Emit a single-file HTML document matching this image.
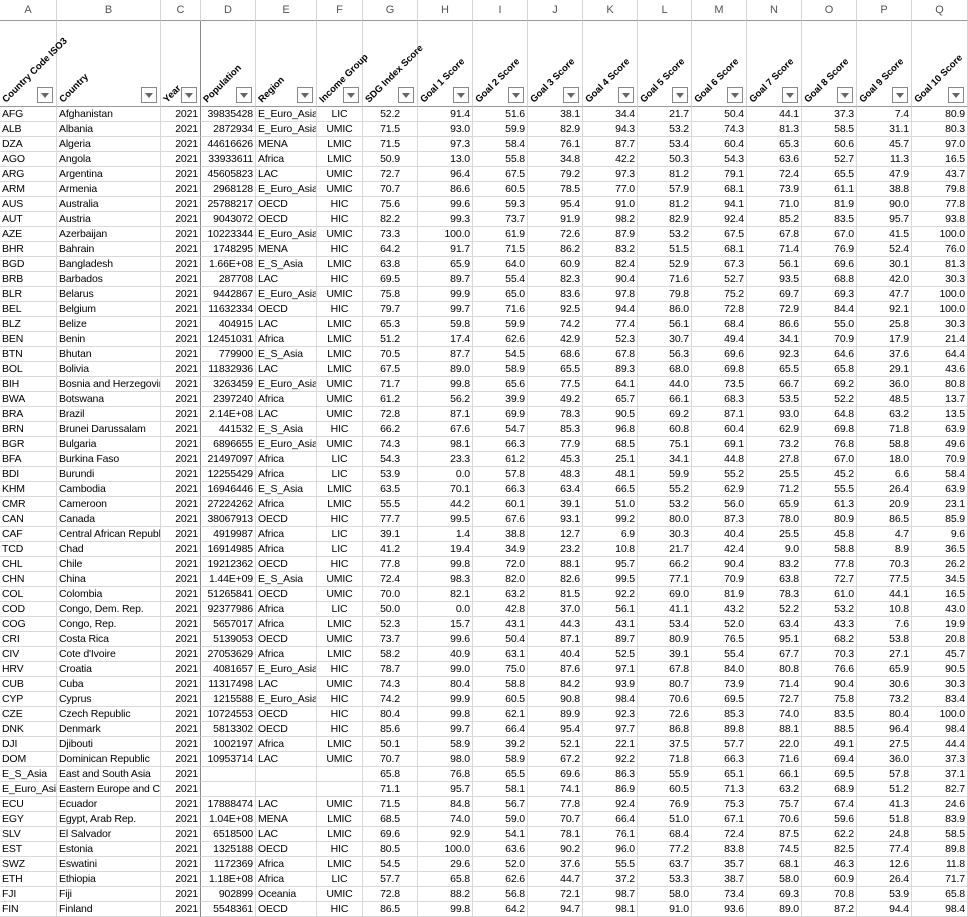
<!DOCTYPE html>
<html><head><meta charset="utf-8"><style>
body{margin:0;width:968px;height:916px;overflow:hidden;background:#fff;font-family:"Liberation Sans",sans-serif;position:relative}
.c{position:absolute;box-sizing:border-box;border-right:1px solid #d9d9d9;border-bottom:1px solid #d9d9d9;font-size:10.5px;letter-spacing:-0.15px;line-height:14px;white-space:nowrap;overflow:hidden;padding:0 2px;color:#000}
.l{text-align:left}.r{text-align:right}.m{text-align:center}
.ch{position:absolute;top:0;height:21px;box-sizing:border-box;border-right:1px solid #d4d4d4;border-bottom:1px solid #9a9a9a;background:#fff;color:#555;font-size:11px;line-height:21px;text-align:center}
.hd{position:absolute;top:21px;height:86px;box-sizing:border-box;border-right:1px solid #d4d4d4;border-bottom:1px solid #9a9a9a}
.fb{position:absolute;right:3px;bottom:3px;width:16px;height:16px;box-sizing:border-box;border:1px solid #888;background:#fff;z-index:2}
.fb:after{content:"";position:absolute;left:3px;top:5px;border-left:4px solid transparent;border-right:4px solid transparent;border-top:5px solid #666}
#hsvg{position:absolute;left:0;top:21px;z-index:1}
</style></head><body>
<svg id="hsvg" width="968" height="86"></svg>
<script>
const edges=[0,57,161,201,256,317,363,418,473,528,583,638,692,747,802,857,912,968];
const letters="ABCDEFGHIJKLMNOPQ".split("");
const heads=["Country Code ISO3","Country","Year","Population","Region","Income Group","SDG Index Score","Goal 1 Score","Goal 2 Score","Goal 3 Score","Goal 4 Score","Goal 5 Score","Goal 6 Score","Goal 7 Score","Goal 8 Score","Goal 9 Score","Goal 10 Score"];
const align=["l","l","r","r","l","m","m","r","r","r","r","r","r","r","r","r","r"];
const rows=`AFG|Afghanistan|2021|39835428|E_Euro_Asia|LIC|52.2|91.4|51.6|38.1|34.4|21.7|50.4|44.1|37.3|7.4|80.9
ALB|Albania|2021|2872934|E_Euro_Asia|UMIC|71.5|93.0|59.9|82.9|94.3|53.2|74.3|81.3|58.5|31.1|80.3
DZA|Algeria|2021|44616626|MENA|LMIC|71.5|97.3|58.4|76.1|87.7|53.4|60.4|65.3|60.6|45.7|97.0
AGO|Angola|2021|33933611|Africa|LMIC|50.9|13.0|55.8|34.8|42.2|50.3|54.3|63.6|52.7|11.3|16.5
ARG|Argentina|2021|45605823|LAC|UMIC|72.7|96.4|67.5|79.2|97.3|81.2|79.1|72.4|65.5|47.9|43.7
ARM|Armenia|2021|2968128|E_Euro_Asia|UMIC|70.7|86.6|60.5|78.5|77.0|57.9|68.1|73.9|61.1|38.8|79.8
AUS|Australia|2021|25788217|OECD|HIC|75.6|99.6|59.3|95.4|91.0|81.2|94.1|71.0|81.9|90.0|77.8
AUT|Austria|2021|9043072|OECD|HIC|82.2|99.3|73.7|91.9|98.2|82.9|92.4|85.2|83.5|95.7|93.8
AZE|Azerbaijan|2021|10223344|E_Euro_Asia|UMIC|73.3|100.0|61.9|72.6|87.9|53.2|67.5|67.8|67.0|41.5|100.0
BHR|Bahrain|2021|1748295|MENA|HIC|64.2|91.7|71.5|86.2|83.2|51.5|68.1|71.4|76.9|52.4|76.0
BGD|Bangladesh|2021|1.66E+08|E_S_Asia|LMIC|63.8|65.9|64.0|60.9|82.4|52.9|67.3|56.1|69.6|30.1|81.3
BRB|Barbados|2021|287708|LAC|HIC|69.5|89.7|55.4|82.3|90.4|71.6|52.7|93.5|68.8|42.0|30.3
BLR|Belarus|2021|9442867|E_Euro_Asia|UMIC|75.8|99.9|65.0|83.6|97.8|79.8|75.2|69.7|69.3|47.7|100.0
BEL|Belgium|2021|11632334|OECD|HIC|79.7|99.7|71.6|92.5|94.4|86.0|72.8|72.9|84.4|92.1|100.0
BLZ|Belize|2021|404915|LAC|LMIC|65.3|59.8|59.9|74.2|77.4|56.1|68.4|86.6|55.0|25.8|30.3
BEN|Benin|2021|12451031|Africa|LMIC|51.2|17.4|62.6|42.9|52.3|30.7|49.4|34.1|70.9|17.9|21.4
BTN|Bhutan|2021|779900|E_S_Asia|LMIC|70.5|87.7|54.5|68.6|67.8|56.3|69.6|92.3|64.6|37.6|64.4
BOL|Bolivia|2021|11832936|LAC|LMIC|67.5|89.0|58.9|65.5|89.3|68.0|69.8|65.5|65.8|29.1|43.6
BIH|Bosnia and Herzegovina|2021|3263459|E_Euro_Asia|UMIC|71.7|99.8|65.6|77.5|64.1|44.0|73.5|66.7|69.2|36.0|80.8
BWA|Botswana|2021|2397240|Africa|UMIC|61.2|56.2|39.9|49.2|65.7|66.1|68.3|53.5|52.2|48.5|13.7
BRA|Brazil|2021|2.14E+08|LAC|UMIC|72.8|87.1|69.9|78.3|90.5|69.2|87.1|93.0|64.8|63.2|13.5
BRN|Brunei Darussalam|2021|441532|E_S_Asia|HIC|66.2|67.6|54.7|85.3|96.8|60.8|60.4|62.9|69.8|71.8|63.9
BGR|Bulgaria|2021|6896655|E_Euro_Asia|UMIC|74.3|98.1|66.3|77.9|68.5|75.1|69.1|73.2|76.8|58.8|49.6
BFA|Burkina Faso|2021|21497097|Africa|LIC|54.3|23.3|61.2|45.3|25.1|34.1|44.8|27.8|67.0|18.0|70.9
BDI|Burundi|2021|12255429|Africa|LIC|53.9|0.0|57.8|48.3|48.1|59.9|55.2|25.5|45.2|6.6|58.4
KHM|Cambodia|2021|16946446|E_S_Asia|LMIC|63.5|70.1|66.3|63.4|66.5|55.2|62.9|71.2|55.5|26.4|63.9
CMR|Cameroon|2021|27224262|Africa|LMIC|55.5|44.2|60.1|39.1|51.0|53.2|56.0|65.9|61.3|20.9|23.1
CAN|Canada|2021|38067913|OECD|HIC|77.7|99.5|67.6|93.1|99.2|80.0|87.3|78.0|80.9|86.5|85.9
CAF|Central African Republic|2021|4919987|Africa|LIC|39.1|1.4|38.8|12.7|6.9|30.3|40.4|25.5|45.8|4.7|9.6
TCD|Chad|2021|16914985|Africa|LIC|41.2|19.4|34.9|23.2|10.8|21.7|42.4|9.0|58.8|8.9|36.5
CHL|Chile|2021|19212362|OECD|HIC|77.8|99.8|72.0|88.1|95.7|66.2|90.4|83.2|77.8|70.3|26.2
CHN|China|2021|1.44E+09|E_S_Asia|UMIC|72.4|98.3|82.0|82.6|99.5|77.1|70.9|63.8|72.7|77.5|34.5
COL|Colombia|2021|51265841|OECD|UMIC|70.0|82.1|63.2|81.5|92.2|69.0|81.9|78.3|61.0|44.1|16.5
COD|Congo, Dem. Rep.|2021|92377986|Africa|LIC|50.0|0.0|42.8|37.0|56.1|41.1|43.2|52.2|53.2|10.8|43.0
COG|Congo, Rep.|2021|5657017|Africa|LMIC|52.3|15.7|43.1|44.3|43.1|53.4|52.0|63.4|43.3|7.6|19.9
CRI|Costa Rica|2021|5139053|OECD|UMIC|73.7|99.6|50.4|87.1|89.7|80.9|76.5|95.1|68.2|53.8|20.8
CIV|Cote d'Ivoire|2021|27053629|Africa|LMIC|58.2|40.9|63.1|40.4|52.5|39.1|55.4|67.7|70.3|27.1|45.7
HRV|Croatia|2021|4081657|E_Euro_Asia|HIC|78.7|99.0|75.0|87.6|97.1|67.8|84.0|80.8|76.6|65.9|90.5
CUB|Cuba|2021|11317498|LAC|UMIC|74.3|80.4|58.8|84.2|93.9|80.7|73.9|71.4|90.4|30.6|30.3
CYP|Cyprus|2021|1215588|E_Euro_Asia|HIC|74.2|99.9|60.5|90.8|98.4|70.6|69.5|72.7|75.8|73.2|83.4
CZE|Czech Republic|2021|10724553|OECD|HIC|80.4|99.8|62.1|89.9|92.3|72.6|85.3|74.0|83.5|80.4|100.0
DNK|Denmark|2021|5813302|OECD|HIC|85.6|99.7|66.4|95.4|97.7|86.8|89.8|88.1|88.5|96.4|98.4
DJI|Djibouti|2021|1002197|Africa|LMIC|50.1|58.9|39.2|52.1|22.1|37.5|57.7|22.0|49.1|27.5|44.4
DOM|Dominican Republic|2021|10953714|LAC|UMIC|70.7|98.0|58.9|67.2|92.2|71.8|66.3|71.6|69.4|36.0|37.3
E_S_Asia|East and South Asia|2021||||65.8|76.8|65.5|69.6|86.3|55.9|65.1|66.1|69.5|57.8|37.1
E_Euro_Asia|Eastern Europe and Central Asia|2021||||71.1|95.7|58.1|74.1|86.9|60.5|71.3|63.2|68.9|51.2|82.7
ECU|Ecuador|2021|17888474|LAC|UMIC|71.5|84.8|56.7|77.8|92.4|76.9|75.3|75.7|67.4|41.3|24.6
EGY|Egypt, Arab Rep.|2021|1.04E+08|MENA|LMIC|68.5|74.0|59.0|70.7|66.4|51.0|67.1|70.6|59.6|51.8|83.9
SLV|El Salvador|2021|6518500|LAC|LMIC|69.6|92.9|54.1|78.1|76.1|68.4|72.4|87.5|62.2|24.8|58.5
EST|Estonia|2021|1325188|OECD|HIC|80.5|100.0|63.6|90.2|96.0|77.2|83.8|74.5|82.5|77.4|89.8
SWZ|Eswatini|2021|1172369|Africa|LMIC|54.5|29.6|52.0|37.6|55.5|63.7|35.7|68.1|46.3|12.6|11.8
ETH|Ethiopia|2021|1.18E+08|Africa|LIC|57.7|65.8|62.6|44.7|37.2|53.3|38.7|58.0|60.9|26.4|71.7
FJI|Fiji|2021|902899|Oceania|UMIC|72.8|88.2|56.8|72.1|98.7|58.0|73.4|69.3|70.8|53.9|65.8
FIN|Finland|2021|5548361|OECD|HIC|86.5|99.8|64.2|94.7|98.1|91.0|93.6|89.0|87.2|94.4|98.4`.split("\n").map(r=>r.split("|"));
const B=document.body;
const S=document.getElementById("hsvg");
const NS="http://www.w3.org/2000/svg";
for(let i=0;i<17;i++){
  const x=edges[i],w=edges[i+1]-x;
  const ch=document.createElement("div");ch.className="ch";ch.style.left=x+"px";ch.style.width=w+"px";ch.textContent=letters[i];
  
  
  B.appendChild(ch);
  const hd=document.createElement("div");hd.className="hd";hd.style.left=x+"px";hd.style.width=w+"px";
  if(i==2)hd.style.borderRight="1px solid #888";
  
  
  const fb=document.createElement("div");fb.className="fb";
  
  
  hd.appendChild(fb);
  B.appendChild(hd);
  const t=document.createElementNS(NS,"text");
  const tx=x+6,ty=82;
  t.setAttribute("x",tx);t.setAttribute("y",ty);
  t.setAttribute("transform","rotate(-45 "+tx+" "+ty+")");
  t.setAttribute("font-size","9.5");t.setAttribute("font-weight","bold");
  t.setAttribute("font-family","Liberation Sans, sans-serif");
  t.textContent=heads[i];
  
  
  S.appendChild(t);
}
rows.forEach((r,ri)=>{
  const y=107+ri*15;
  for(let i=0;i<17;i++){
    const c=document.createElement("div");c.className="c "+align[i];
    c.style.left=edges[i]+"px";c.style.width=(edges[i+1]-edges[i])+"px";c.style.top=y+"px";c.style.height="15px";
    if(i==2)c.style.borderRight="1px solid #888";
    c.textContent=r[i]||"";
    
    
    B.appendChild(c);
  }
});
</script>
</body></html>
